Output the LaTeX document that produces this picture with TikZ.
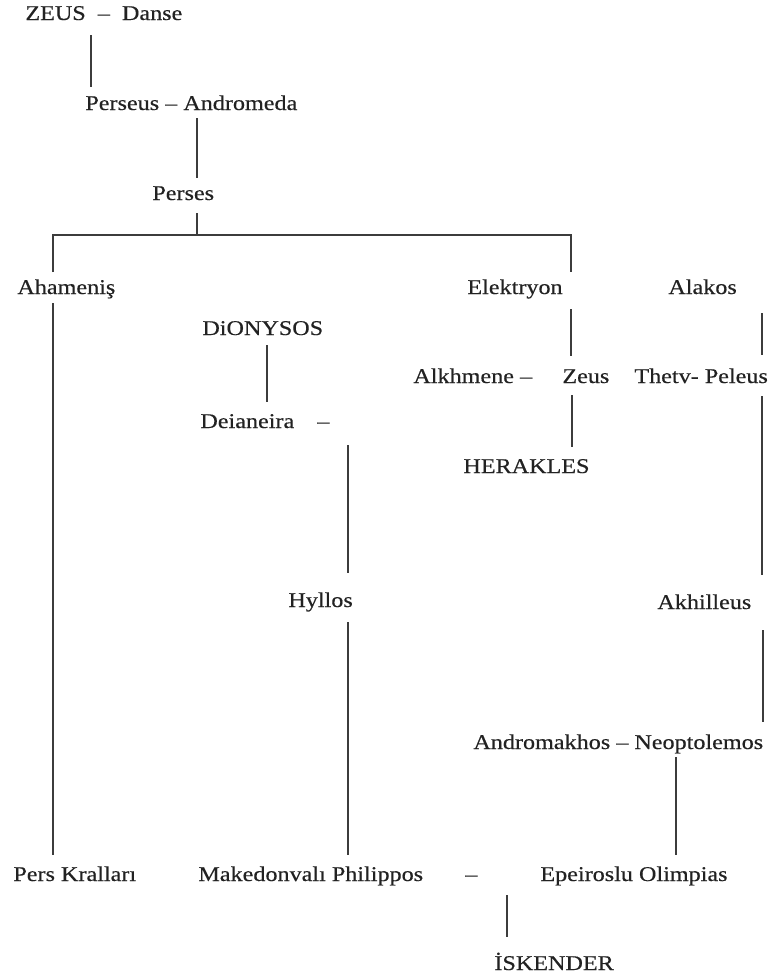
\documentclass[tikz,border=0pt]{standalone}
\usepackage{fontspec}
\setmainfont[FakeStretch=1.15,FakeBold=0.4]{Liberation Serif}
\usetikzlibrary{calc}
\definecolor{txt}{HTML}{222222}
\definecolor{ln}{HTML}{3C3C3C}
\begin{document}
\begin{tikzpicture}[x=0.5pt,y=-0.5pt,
  person/.style={anchor=base west,inner sep=0pt,text=txt,font=\fontsize{10.5}{12.6}\selectfont},
  conn/.style={draw=ln,line width=1.2pt,line join=miter}]
\useasboundingbox[fill=white] (0,0) rectangle (769,980);
% people
\node[person] (zeus)   at (25,20)  {ZEUS\ \ --\ \ Danse};
\node[person] (perseus) at (85,110) {Perseus -- Andromeda};
\node[person] (perses) at (152,200) {Perses};
\node[person] (aham)   at (17,294)  {Ahameniş};
\node[person] (elek)   at (467,294) {Elektryon};
\node[person] (alakos) at (668,294) {Alakos};
\node[person] (dion)   at (202,335) {DiONYSOS};
\node[person] (alkh)   at (413,383) {Alkhmene --};
\node[person] (zeustwo) at (562,383) {Zeus};
\node[person] (thetv)  at (634,383) {Thetv- Peleus};
\node[person] (deian)  at (200,428) {Deianeira};
\node[person] (ddash)  at (317,428) {--};
\node[person] (herak)  at (463,473) {HERAKLES};
\node[person] (hyllos) at (288,607) {Hyllos};
\node[person] (akhil)  at (657,609) {Akhilleus};
\node[person] (andro)  at (473,749) {Andromakhos -- Neoptolemos};
\node[person] (pers)   at (13,881)  {Pers Kralları};
\node[person] (phil)   at (198,881) {Makedonvalı Philippos};
\node[person] (pdash)  at (465,881) {--};
\node[person] (epei)   at (540,881) {Epeiroslu Olimpias};
\node[person] (isk)    at (494,970) {İSKENDER};
% bar joints
\coordinate (barL) at (53,235);
\coordinate (barM) at (197,235);
\coordinate (barR) at (571,235);
% connectors
\draw[conn] ($(zeus.base west)+(66,15)$) -- ($(perseus.base west)+(6,-23)$);
\draw[conn] ($(perseus.base west)+(112,8)$) -- ($(perses.base west)+(45,-22)$);
\draw[conn] ($(perses.base west)+(45,13)$) -- (barM);
\draw[conn] ($(aham.base west)+(36,-22)$) -- (barL) -- (barR) -- ($(elek.base west)+(104,-22)$);
\draw[conn] ($(aham.base west)+(36,9)$) -- ($(pers.base west)+(40,-26)$);
\draw[conn] ($(elek.base west)+(104,15)$) -- ($(zeustwo.base west)+(9,-27)$);
\draw[conn] ($(zeustwo.base west)+(10,12)$) -- ($(herak.base west)+(109,-26)$);
\draw[conn] ($(alakos.base west)+(94,19)$) -- ($(thetv.base west)+(128,-28)$);
\draw[conn] ($(thetv.base west)+(128,13)$) -- ($(akhil.base west)+(105,-34)$);
\draw[conn] ($(akhil.base west)+(106,21)$) -- ($(andro.base west)+(290,-27)$);
\draw[conn] ($(dion.base west)+(65,10)$) -- ($(deian.base west)+(67,-26)$);
\draw[conn] ($(ddash.base west)+(31,17)$) -- ($(hyllos.base west)+(60,-34)$);
\draw[conn] ($(hyllos.base west)+(60,15)$) -- ($(phil.base west)+(150,-26)$);
\draw[conn] ($(andro.base west)+(203,8)$) -- ($(epei.base west)+(136,-26)$);
\draw[conn] ($(pdash.base west)+(42,14)$) -- ($(isk.base west)+(13,-33)$);
\end{tikzpicture}
\end{document}
